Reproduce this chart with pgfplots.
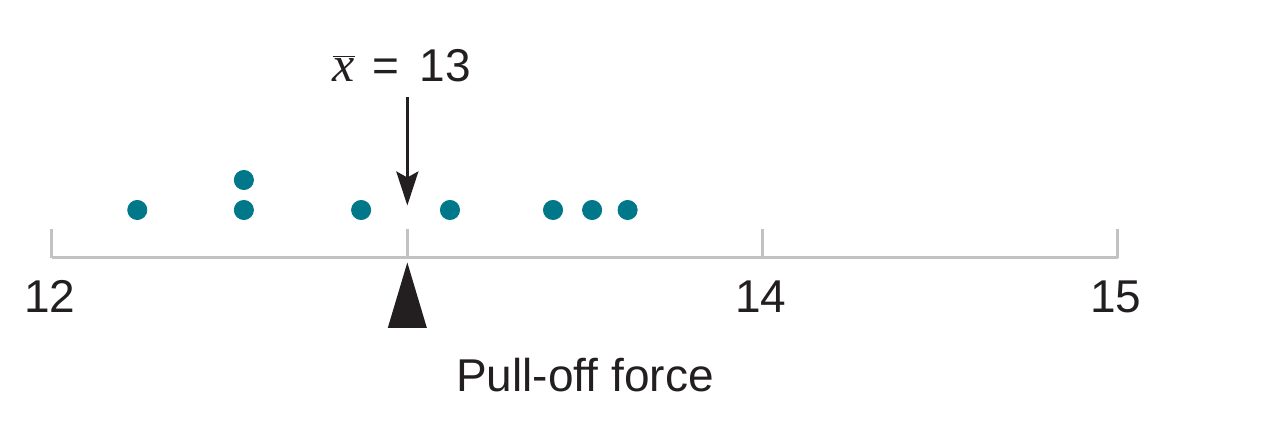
\documentclass[border=0pt]{standalone}
\usepackage{fontspec}
\setmainfont{Liberation Sans}
\newfontfamily\serifit{Liberation Serif}
\usepackage{pgfplots}
\pgfplotsset{compat=1.18}
\usetikzlibrary{arrows.meta}
\definecolor{dotc}{HTML}{00788A}
\definecolor{ink}{HTML}{231F20}
\definecolor{axgray}{HTML}{C2C2C2}
\begin{document}
\begin{tikzpicture}
\useasboundingbox (-26pt,-81.5pt) rectangle (615pt,129pt);
\begin{axis}[
  at={(0,0)}, anchor=south west,
  scale only axis, width=533pt, height=129pt,
  xmin=12, xmax=15, ymin=-0.6, ymax=8,
  axis y line=none, axis x line=bottom,
  x axis line style={-, axgray, line width=1.5pt},
  xtick={12,13,14,15}, xticklabels={12,,14,15},
  xtick align=inside, major tick length=14.5pt,
  xtick style={axgray, line width=1.5pt},
  /pgf/number format/assume math mode=true,
  xticklabel style={anchor=base, yshift=-27.5pt, xshift=-1pt, font=\fontsize{23}{27}\selectfont, text=ink},
  xlabel={Pull-off force},
  xlabel style={at={(rel axis cs:0.5,0)}, anchor=base, yshift=-67pt, font=\fontsize{23}{27}\selectfont, text=ink},
  clip=false,
]
\addplot[only marks, mark=*, mark size=4.8pt, color=dotc, mark options={draw=none, fill=dotc}] coordinates {
  (12.24,1) (12.54,1) (12.54,2) (12.87,1) (13.12,1) (13.41,1) (13.52,1) (13.62,1)
};
\draw[ink, line width=1.5pt, -{Stealth[length=17pt, width=11pt, inset=3pt]}] (axis cs:13,4.77) -- (axis cs:13,1.15);
\fill[ink] (axis cs:13,-0.75) -- (axis cs:13.055,-2.93) -- (axis cs:12.945,-2.93) -- cycle;
\node[anchor=base, text=ink, font=\fontsize{23}{27}\selectfont, xshift=-2.75pt] at (axis cs:13,5.27) {$\overline{\hbox{\serifit\itshape\fontsize{25}{29}\selectfont x}}$\hspace{9pt}=\hspace{10pt}13};
\end{axis}
\end{tikzpicture}
\end{document}
